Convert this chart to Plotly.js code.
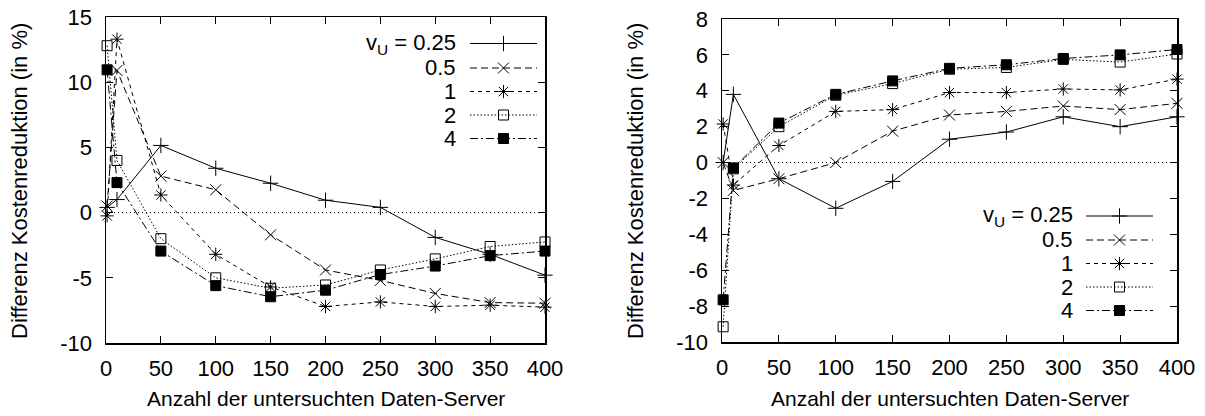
<!DOCTYPE html>
<html>
<head>
<meta charset="utf-8">
<script src="https://cdn.plot.ly/plotly-3.0.1.min.js"></script>
<style>html,body{margin:0;padding:0;background:#fff;}#chart{width:1205px;height:416px;}</style>
</head>
<body>
<div id="chart"></div>
<script>
// ---- data ----
const servers = [1, 10, 50, 100, 150, 200, 250, 300, 350, 400];
const seriesNames = ["v<sub>U</sub> = 0.25", "0.5", "1", "2", "4"];

// left panel
const left_025 = [0.4, 1.0, 5.15, 3.4, 2.25, 0.95, 0.4, -1.9, -3.2, -4.8];
const left_05  = [0.5, 10.9, 2.8, 1.75, -1.7, -4.4, -5.2, -6.2, -6.9, -6.95];
const left_1   = [-0.25, 13.3, 1.35, -3.2, -5.7, -7.2, -6.85, -7.2, -7.1, -7.25];
const left_2   = [12.8, 4.0, -2.0, -5.0, -5.8, -5.55, -4.4, -3.55, -2.6, -2.25];
const left_4   = [10.95, 2.3, -2.95, -5.6, -6.45, -5.95, -4.75, -4.1, -3.3, -2.95];

// right panel
const right_025 = [0.0, 3.8, -0.9, -2.55, -1.05, 1.3, 1.7, 2.55, 2.0, 2.55];
const right_05  = [0.0, -1.55, -0.9, 0.0, 1.75, 2.65, 2.85, 3.15, 2.95, 3.3];
const right_1   = [2.15, -1.25, 0.95, 2.85, 2.95, 3.9, 3.9, 4.1, 4.05, 4.65];
const right_2   = [-9.15, -0.35, 2.0, 3.75, 4.4, 5.2, 5.3, 5.75, 5.6, 6.05];
const right_4   = [-7.65, -0.3, 2.2, 3.8, 4.55, 5.25, 5.45, 5.8, 6.0, 6.3];

// tick labels
const xTicks = [0, 50, 100, 150, 200, 250, 300, 350, 400];
const yTicksLeft = [-10, -5, 0, 5, 10, 15];
const yTicksRight = [-10, -8, -6, -4, -2, 0, 2, 4, 6, 8];
const yLabelsLeft = ["-10", "-5", "0", "5", "10", "15"];
const yLabelsRight = ["-10", "-8", "-6", "-4", "-2", "0", "2", "4", "6", "8"];

// ---- styles ----
const styles = [
  {dash: "solid", symbol: "cross-thin-open", size: 11},
  {dash: "7px,4px", symbol: "x-thin-open", size: 11},
  {dash: "4px,4px", symbol: "asterisk-open", size: 11},
  {dash: "1.5px,2px", symbol: "square-open", size: 10},
  {dash: "8px,3px,2px,3px", symbol: "square", size: 10}
];

const FONT = "Liberation Sans, Arial, Helvetica, sans-serif";
const FS = 22;
const W = 1205, H = 416;

function mkTraces(ys, xa, ya) {
  return ys.map((y, i) => ({
    x: servers, y: y, xaxis: xa, yaxis: ya, type: "scatter", mode: "lines+markers",
    name: seriesNames[i], showlegend: false, cliponaxis: false,
    line: {color: "black", width: 1, dash: styles[i].dash},
    marker: {symbol: styles[i].symbol, size: styles[i].size, color: "black",
             line: {color: "black", width: 1}}
  }));
}

const traces = [
  ...mkTraces([left_025, left_05, left_1, left_2, left_4], "x", "y"),
  ...mkTraces([right_025, right_05, right_1, right_2, right_4], "x2", "y2")
];

// legend samples (pixel layout via overlay axis)
function legendTraces(rowY, x0, x1) {
  const out = [];
  for (let i = 0; i < seriesNames.length; i++) {
    const yy = rowY[i];
    out.push({
      x: [x0, x1], y: [yy, yy], xaxis: "x3", yaxis: "y3", type: "scatter", mode: "lines",
      showlegend: false, hoverinfo: "skip",
      line: {color: "black", width: 1, dash: styles[i].dash}
    });
    out.push({
      x: [(x0 + x1) / 2], y: [yy], xaxis: "x3", yaxis: "y3", type: "scatter", mode: "markers",
      showlegend: false, hoverinfo: "skip",
      marker: {symbol: styles[i].symbol, size: styles[i].size, color: "black",
               line: {color: "black", width: 1}}
    });
  }
  return out;
}
const leftRows = [43.5, 68, 91.5, 115, 138.5];
const rightRows = [216, 240, 263.5, 287, 310.5];
traces.push(...legendTraces(leftRows, 470, 537));
traces.push(...legendTraces(rightRows, 1086, 1153));

const annotations = [];
function legendLabels(labelRight, rowY) {
  rowY.forEach((yy, i) => {
    annotations.push({
      x: labelRight / W, y: 1 - yy / H, xref: "paper", yref: "paper",
      xanchor: "right", yanchor: "middle", showarrow: false,
      text: seriesNames[i], font: {family: FONT, size: FS, color: "black"}
    });
  });
}
legendLabels(458, leftRows);
legendLabels(1075, rightRows);

// axis titles
const yTitle = "Differenz Kostenreduktion (in %)";
const xTitle = "Anzahl der untersuchten Daten-Server";
annotations.push({x: 19 / W, y: 1 - 181 / H, xref: "paper", yref: "paper", textangle: -90,
  showarrow: false, xanchor: "center", yanchor: "middle", text: yTitle,
  font: {family: FONT, size: FS, color: "black"}});
annotations.push({x: 635 / W, y: 1 - 181 / H, xref: "paper", yref: "paper", textangle: -90,
  showarrow: false, xanchor: "center", yanchor: "middle", text: yTitle,
  font: {family: FONT, size: FS, color: "black"}});
annotations.push({x: 326 / W, y: 1 - 398 / H, xref: "paper", yref: "paper",
  showarrow: false, xanchor: "center", yanchor: "middle", text: xTitle,
  font: {family: FONT, size: 21, color: "black"}});
annotations.push({x: 950 / W, y: 1 - 398 / H, xref: "paper", yref: "paper",
  showarrow: false, xanchor: "center", yanchor: "middle", text: xTitle,
  font: {family: FONT, size: 21, color: "black"}});

function xAxis(domain, anchor) {
  return {domain: domain, anchor: anchor, range: [0, 400], tickvals: xTicks,
    ticks: "inside", ticklen: 7, tickwidth: 1, tickcolor: "black",
    showline: true, linecolor: "black", linewidth: 1.5, mirror: "allticks",
    showgrid: false, zeroline: false, ticklabelstandoff: 5,
    tickfont: {family: FONT, size: FS, color: "black"}};
}
function yAxis(domain, anchor, range, vals, labels) {
  return {domain: domain, anchor: anchor, range: range, tickvals: vals, ticktext: labels,
    ticks: "inside", ticklen: 7, tickwidth: 1, tickcolor: "black",
    showline: true, linecolor: "black", linewidth: 1.5, mirror: "allticks",
    showgrid: false, zeroline: false, ticklabelstandoff: 8,
    tickfont: {family: FONT, size: FS, color: "black"}};
}

const layout = {
  width: W, height: H,
  margin: {l: 0, r: 0, t: 0, b: 0},
  paper_bgcolor: "white", plot_bgcolor: "rgba(0,0,0,0)",
  showlegend: false,
  xaxis: xAxis([106 / W, 545 / W], "y"),
  yaxis: yAxis([1 - 343 / H, 1 - 17 / H], "x", [-10, 15], yTicksLeft, yLabelsLeft),
  xaxis2: xAxis([722 / W, 1177 / W], "y2"),
  yaxis2: yAxis([1 - 342 / H, 1 - 19 / H], "x2", [-10, 8], yTicksRight, yLabelsRight),
  xaxis3: {domain: [0, 1], range: [0, W], visible: false, anchor: "y3", fixedrange: true},
  yaxis3: {domain: [0, 1], range: [H, 0], visible: false, anchor: "x3", fixedrange: true},
  shapes: [
    {type: "line", xref: "x domain", yref: "y", x0: 0, x1: 1, y0: 0, y1: 0,
     line: {color: "black", width: 1, dash: "1px,3px"}},
    {type: "line", xref: "x2 domain", yref: "y2", x0: 0, x1: 1, y0: 0, y1: 0,
     line: {color: "black", width: 1, dash: "1px,3px"}}
  ],
  annotations: annotations
};

Plotly.newPlot("chart", traces, layout, {displayModeBar: false, staticPlot: true});
</script>
</body>
</html>
